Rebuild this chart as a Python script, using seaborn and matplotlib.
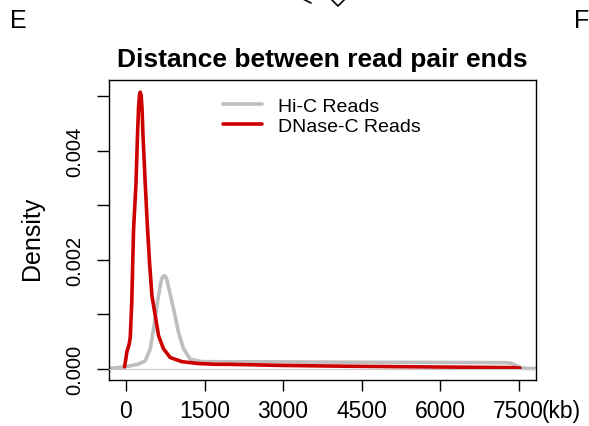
import matplotlib
matplotlib.use("Agg")
import matplotlib.pyplot as plt
from matplotlib.lines import Line2D
import numpy as np
import pandas as pd
import seaborn as sns

# Kernel density estimates of the distance between read pair ends (kb)
hic_kb = [-324, -13, 240, 368, 464, 527, 591, 654, 680, 705, 731, 757, 782,
          813, 909, 1004, 1100, 1227, 1450, 3000, 4280, 6000, 7270, 7380,
          7460, 7560, 7651, 7824]
hic_density = [0.00001, 0.00004, 0.00009, 0.00015, 0.00037, 0.00073, 0.00116,
               0.00153, 0.00164, 0.00169, 0.00171, 0.00169, 0.00163, 0.00150,
               0.00110, 0.00067, 0.00037, 0.00018, 0.000134, 0.00013,
               0.000124, 0.00012, 0.000115, 0.00010, 0.00006, 0.00002,
               0.00001, 0.00001]

dnase_kb = [-27, 0, 19, 60, 82, 110, 145, 191, 221, 240, 258, 273, 290, 308,
            324, 368, 412, 450, 496, 559, 622, 717, 845, 1068, 1385, 1704,
            2000, 3000, 4280, 5500, 6500, 7400, 7523]
dnase_density = [0.00004, 0.00020, 0.00032, 0.00045, 0.00058, 0.00120,
                 0.00256, 0.00339, 0.00430, 0.00478, 0.00502, 0.00507,
                 0.00501, 0.00475, 0.00430, 0.00339, 0.00256, 0.00195,
                 0.00134, 0.00098, 0.00061, 0.00037, 0.00021, 0.000134,
                 0.00010, 0.000086, 0.000085, 0.000065, 0.00005, 0.00004,
                 0.000032, 0.000025, 0.000015]

series_names = ["Hi-C Reads", "DNase-C Reads"]
series_colors = ["#BEBEBE", "#CD0000"]

x_ticks = [0, 1500, 3000, 4500, 6000, 7500]
x_tick_labels = ["0", "1500", "3000", "4500", "6000", "7500"]
y_ticks = [0.000, 0.001, 0.002, 0.003, 0.004, 0.005]
y_tick_labels = ["0.000", "", "0.002", "", "0.004", ""]

df = pd.concat([
    pd.DataFrame({"distance_kb": hic_kb, "density": hic_density,
                  "reads": series_names[0]}),
    pd.DataFrame({"distance_kb": dnase_kb, "density": dnase_density,
                  "reads": series_names[1]}),
], ignore_index=True)

sns.set_style("ticks")
plt.rcParams["font.family"] = ["Liberation Sans", "DejaVu Sans"]
plt.rcParams.update({"text.color": "black", "axes.labelcolor": "black",
                     "xtick.color": "black", "ytick.color": "black"})

W, H = 589, 427
fig = plt.figure(figsize=(W / 100, H / 100), dpi=100)
ax = fig.add_axes([109 / W, 1 - 380.7 / H, (535.7 - 109) / W, (380.7 - 81) / H])

sns.lineplot(data=df, x="distance_kb", y="density", hue="reads",
             hue_order=series_names, palette=series_colors, linewidth=2.6,
             estimator=None, sort=False, ax=ax)
for line in ax.get_lines():
    line.set_solid_joinstyle("round")
    line.set_solid_capstyle("round")
ax.axhline(0, color="#C8C8C8", linewidth=0.8, zorder=3)

ax.set_xlim(-324, 7824)
ax.set_ylim(-0.000196, 0.005293)

for side in ["left", "right", "top", "bottom"]:
    ax.spines[side].set_visible(True)
    ax.spines[side].set_color("black")
    ax.spines[side].set_linewidth(1.0)

ax.set_xticks(x_ticks)
ax.set_xticklabels(x_tick_labels, fontsize=16.5, color="black")
ax.set_yticks(y_ticks)
ax.set_yticklabels(y_tick_labels, fontsize=14.5, rotation=90, va="center",
                   color="black")
ax.tick_params(axis="x", direction="out", length=8, width=1, pad=6, colors="black")
ax.tick_params(axis="y", direction="out", length=8.5, width=1, pad=9, colors="black")

# unit suffix after the last x tick label
last_label = ax.xaxis.get_major_ticks()[-1].label1
ax.annotate("(kb)", xy=(1, 0), xycoords=last_label, xytext=(-3, 0),
            textcoords="offset pixels", ha="left", va="bottom",
            fontsize=16.5, color="black")

ax.set_xlabel("")
ax.set_ylabel("Density", fontsize=18, color="black")
ax.yaxis.set_label_coords((32 - 109) / (535.7 - 109), (380.7 - 238) / (380.7 - 81))
ax.yaxis.label.set_verticalalignment("center")
ax.yaxis.label.set_rotation_mode("default")

ax.set_title("Distance between read pair ends", fontsize=19,
             fontweight="bold", pad=10, color="black")

handles, labels = ax.get_legend_handles_labels()
for h in handles:
    h.set_linewidth(2.6)
leg = ax.legend(handles, labels, frameon=False, loc="upper left",
                bbox_to_anchor=((223 - 109) / (535.7 - 109), 0.942), fontsize=14,
                handlelength=2.0, handletextpad=0.85, labelspacing=0.1,
                borderpad=0, borderaxespad=0)
for t in leg.get_texts():
    t.set_color("black")

# panel letters and the edge of the neighbouring panel above
fig.text(18 / W, 1 - 21 / H, "E", fontsize=18, ha="center", va="center")
fig.text(581.5 / W, 1 - 21 / H, "F", fontsize=18, ha="center", va="center")
fig.add_artist(Line2D([303 / W, 311 / W], [1, 1 - 4 / H], color="black",
                      linewidth=1.2, transform=fig.transFigure))
fig.add_artist(Line2D([331 / W, 338 / W, 345 / W], [1, 1 - 7 / H, 1],
                      color="black", linewidth=1.2, transform=fig.transFigure))

fig.savefig("out.png", dpi=100)
